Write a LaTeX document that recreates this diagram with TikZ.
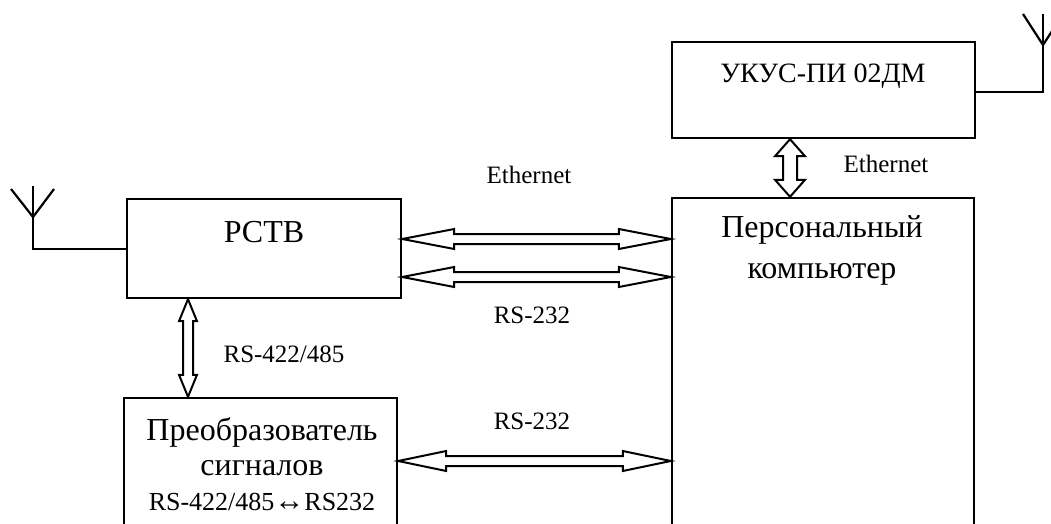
\documentclass[tikz,border=0pt]{standalone}
\usepackage{fontspec}
\setmainfont{Liberation Serif}
\usetikzlibrary{calc}
\tikzset{
  box/.style={draw, line width=2.4pt, inner sep=0pt},
  big/.style={font=\fontsize{32}{35}\selectfont, anchor=base, inner sep=0pt},
  mid/.style={font=\fontsize{28}{32}\selectfont, anchor=base, inner sep=0pt},
  lbl/.style={font=\fontsize{25}{28}\selectfont, anchor=base, inner sep=0pt},
  conn/.style={draw, line width=2pt, line join=miter},
  wire/.style={draw, line width=2.2pt},
}
% horizontal hollow double arrow: from, to, head length, head half width, shaft half width
\newcommand\hdar[5]{\path[conn] let \p1=(#1), \p2=(#2) in
  (\x1,\y1) -- (\x1+#3pt,\y1+#4pt) -- (\x1+#3pt,\y1+#5pt) -- (\x2-#3pt,\y1+#5pt)
  -- (\x2-#3pt,\y1+#4pt) -- (\x2,\y1) -- (\x2-#3pt,\y1-#4pt) -- (\x2-#3pt,\y1-#5pt)
  -- (\x1+#3pt,\y1-#5pt) -- (\x1+#3pt,\y1-#4pt) -- cycle;}
% vertical hollow double arrow: top, bottom, head length, head half width, shaft half width
\newcommand\vdar[5]{\path[conn] let \p1=(#1), \p2=(#2) in
  (\x1,\y1) -- (\x1+#4pt,\y1-#3pt) -- (\x1+#5pt,\y1-#3pt) -- (\x1+#5pt,\y2+#3pt)
  -- (\x1+#4pt,\y2+#3pt) -- (\x1,\y2) -- (\x1-#4pt,\y2+#3pt) -- (\x1-#5pt,\y2+#3pt)
  -- (\x1-#5pt,\y1-#3pt) -- (\x1-#4pt,\y1-#3pt) -- cycle;}
\begin{document}
\begin{tikzpicture}[x=1pt, y=-1pt]
\clip (0,0) rectangle (1051,524);
\fill[white] (0,0) rectangle (1051,524);

% boxes
\node[box, minimum width=303pt, minimum height=96pt] (ukus) at (823.5,90) {};
\node[box, minimum width=302pt, minimum height=402pt] (pc) at (823,399) {};
\node[box, minimum width=274pt, minimum height=99pt] (rstv) at (264,248.5) {};
\node[box, minimum width=273pt, minimum height=202pt] (conv) at (260.5,499) {};

% box texts
\node[mid] (tukus) at (823,83) {УКУС-ПИ 02ДМ};
\node[big] (tpc1) at (822,237) {Персональный};
\node[big] (tpc2) at (822,278) {компьютер};
\node[big] (trstv) at (264,242) {РСТВ};
\node[big] (tconv1) at (262,440) {Преобразователь};
\node[big] (tconv2) at (262,475) {сигналов};
\node[big, font=\fontsize{26}{30}\selectfont] (tconv3) at (262,510) {RS-422/485{\fontsize{30}{30}\selectfont↔}RS232};

% labels
\node[lbl] (leth1) at (529,183) {Ethernet};
\node[lbl] (lrs1) at (532,323) {RS-232};
\node[lbl] (lrs2) at (532,429) {RS-232};
\node[lbl] (lrs485) at (284,362) {RS-422/485};
\node[lbl] (leth2) at (886,172) {Ethernet};

% arrow end points
\coordinate (a1) at (rstv.east |- 0,239);
\coordinate (b1) at (pc.west |- 0,239);
\coordinate (a2) at (rstv.east |- 0,277);
\coordinate (b2) at (pc.west |- 0,277);
\coordinate (a3) at (conv.east |- 0,461);
\coordinate (b3) at (pc.west |- 0,461);
\coordinate (a4) at (rstv.south -| 188,0);
\coordinate (b4) at (conv.north -| 188,0);
\coordinate (a5) at (ukus.south -| 790,0);
\coordinate (b5) at (pc.north -| 790,0);

\hdar{a1}{b1}{52}{10}{5}
\hdar{a2}{b2}{52}{10}{5}
\hdar{a3}{b3}{48}{10}{5}
\vdar{a4}{b4}{22}{9}{5}
\vdar{a5}{b5}{17}{15}{7}

% left antenna
\coordinate (la) at (33,217);
\coordinate (la1) at (33,186);
\coordinate (la2) at (11,189);
\coordinate (la3) at (54,189);
\draw[wire] (rstv.west |- 0,249) -| (la);
\draw[wire] (la) -- (la1);
\draw[wire] (la) -- (la2);
\draw[wire] (la) -- (la3);

% right antenna
\coordinate (ra) at (1043,45);
\coordinate (ra1) at (1043,14);
\coordinate (ra2) at (1023,14);
\coordinate (ra3) at (1063,14);
\draw[wire] (ukus.east |- 0,92) -| (ra);
\draw[wire] (ra) -- (ra1);
\draw[wire] (ra) -- (ra2);
\draw[wire] (ra) -- (ra3);
\end{tikzpicture}
\end{document}
